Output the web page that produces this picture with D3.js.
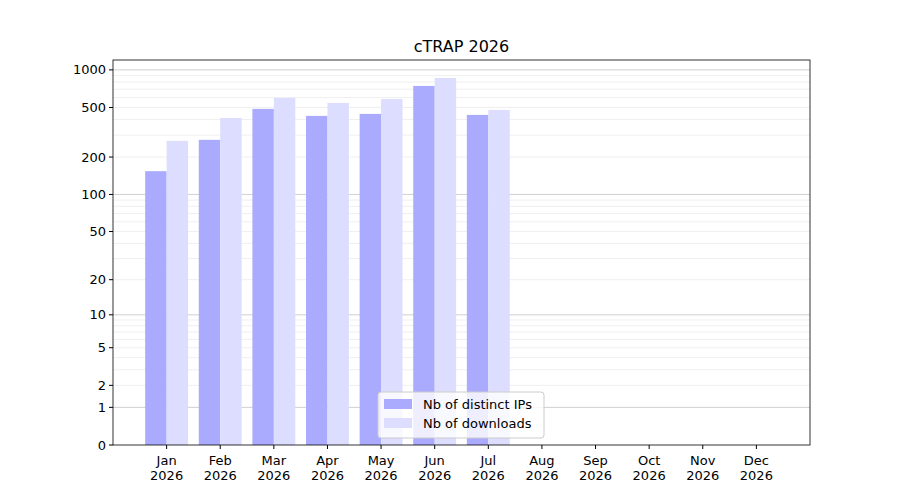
<!DOCTYPE html>
<html><head><meta charset="utf-8">
<script src="https://d3js.org/d3.v7.min.js"></script>
<style>body{margin:0;background:#fff}text{font-family:"DejaVu Sans",sans-serif}</style>
</head><body><svg id="chart"></svg>
<script>
var months = ["Jan","Feb","Mar","Apr","May","Jun","Jul","Aug","Sep","Oct","Nov","Dec"]
var year = "2026"
var distinctIPs = [154, 275, 487, 428, 444, 744, 436]
var downloads = [270, 412, 596, 544, 585, 862, 478]
var yTicks = [0, 1, 2, 5, 10, 20, 50, 100, 200, 500, 1000]

var svg = d3.select("#chart").attr("width", 900).attr("height", 500)
var plotLeft = 113, plotRight = 810, plotTop = 60, plotBottom = 445

var f = function(v){ return Math.log10(1 + v) }
var yLin = d3.scaleLinear().domain([0, f(1200)]).range([plotBottom, plotTop])
var y = function(v){ return yLin(f(v)) }
var x = d3.scaleLinear().domain([-1, 12]).range([plotLeft, plotRight])
var bw = (x(1) - x(0)) * 0.4

// minor grid
var minors = []
;[1, 10, 100, 1000].forEach(function(d){
  for (var k = 2; k <= 9; k++) if (d * k <= 1200) minors.push(d * k)
})
svg.selectAll(".minor").data(minors).enter().append("line")
  .attr("x1", plotLeft).attr("x2", plotRight)
  .attr("y1", function(d){ return y(d) }).attr("y2", function(d){ return y(d) })
  .attr("stroke", "#ebebeb").attr("stroke-width", 0.8)
svg.selectAll(".major").data([1, 10, 100, 1000]).enter().append("line")
  .attr("x1", plotLeft).attr("x2", plotRight)
  .attr("y1", function(d){ return y(d) }).attr("y2", function(d){ return y(d) })
  .attr("stroke", "#c4c4c4").attr("stroke-width", 0.8)

svg.selectAll(".ip").data(distinctIPs).enter().append("rect")
  .attr("x", function(d, i){ return x(i) - bw })
  .attr("y", function(d){ return y(d) })
  .attr("width", bw).attr("height", function(d){ return plotBottom - y(d) })
  .attr("fill", "#aaaaff")
svg.selectAll(".dl").data(downloads).enter().append("rect")
  .attr("x", function(d, i){ return x(i) })
  .attr("y", function(d){ return y(d) })
  .attr("width", bw).attr("height", function(d){ return plotBottom - y(d) })
  .attr("fill", "#ddddff")

svg.append("rect").attr("x", plotLeft).attr("y", plotTop).attr("width", plotRight - plotLeft).attr("height", plotBottom - plotTop)
  .attr("fill", "none").attr("stroke", "#000").attr("stroke-width", 0.8)

// y ticks
var yt = svg.append("g")
yt.selectAll("line").data(yTicks).enter().append("line")
  .attr("x1", plotLeft - 4).attr("x2", plotLeft).attr("y1", function(d){ return y(d) }).attr("y2", function(d){ return y(d) })
  .attr("stroke", "#000")
yt.selectAll("text").data(yTicks).enter().append("text")
  .attr("x", plotLeft - 7).attr("y", function(d){ return y(d) }).attr("dy", "0.35em")
  .attr("text-anchor", "end").attr("font-size", 13).text(function(d){ return d })

// x ticks
var xt = svg.append("g")
xt.selectAll("line").data(months).enter().append("line")
  .attr("x1", function(d, i){ return x(i) }).attr("x2", function(d, i){ return x(i) })
  .attr("y1", plotBottom).attr("y2", plotBottom + 4).attr("stroke", "#000")
xt.selectAll("text").data(months).enter().append("text")
  .attr("x", function(d, i){ return x(i) }).attr("y", plotBottom + 20)
  .attr("text-anchor", "middle").attr("font-size", 13)
  .each(function(d){
    d3.select(this).append("tspan").attr("x", d3.select(this).attr("x")).text(d)
    d3.select(this).append("tspan").attr("x", d3.select(this).attr("x")).attr("dy", 15).text(year)
  })

svg.append("text").attr("x", (plotLeft + plotRight) / 2).attr("y", 52).attr("text-anchor", "middle")
  .attr("font-size", 16).text("cTRAP " + year)

// legend
var lg = svg.append("g").attr("transform", "translate(378,392)")
lg.append("rect").attr("width", 166).attr("height", 46).attr("rx", 3)
  .attr("fill", "#fff").attr("fill-opacity", 0.8).attr("stroke", "#ccc")
var items = [["Nb of distinct IPs", "#aaaaff"], ["Nb of downloads", "#ddddff"]]
items.forEach(function(it, i){
  lg.append("rect").attr("x", 6).attr("y", 7 + i * 19).attr("width", 28).attr("height", 10).attr("fill", it[1])
  lg.append("text").attr("x", 45).attr("y", 12 + i * 19).attr("dy", "0.35em").attr("font-size", 13).text(it[0])
})
</script></body></html>
